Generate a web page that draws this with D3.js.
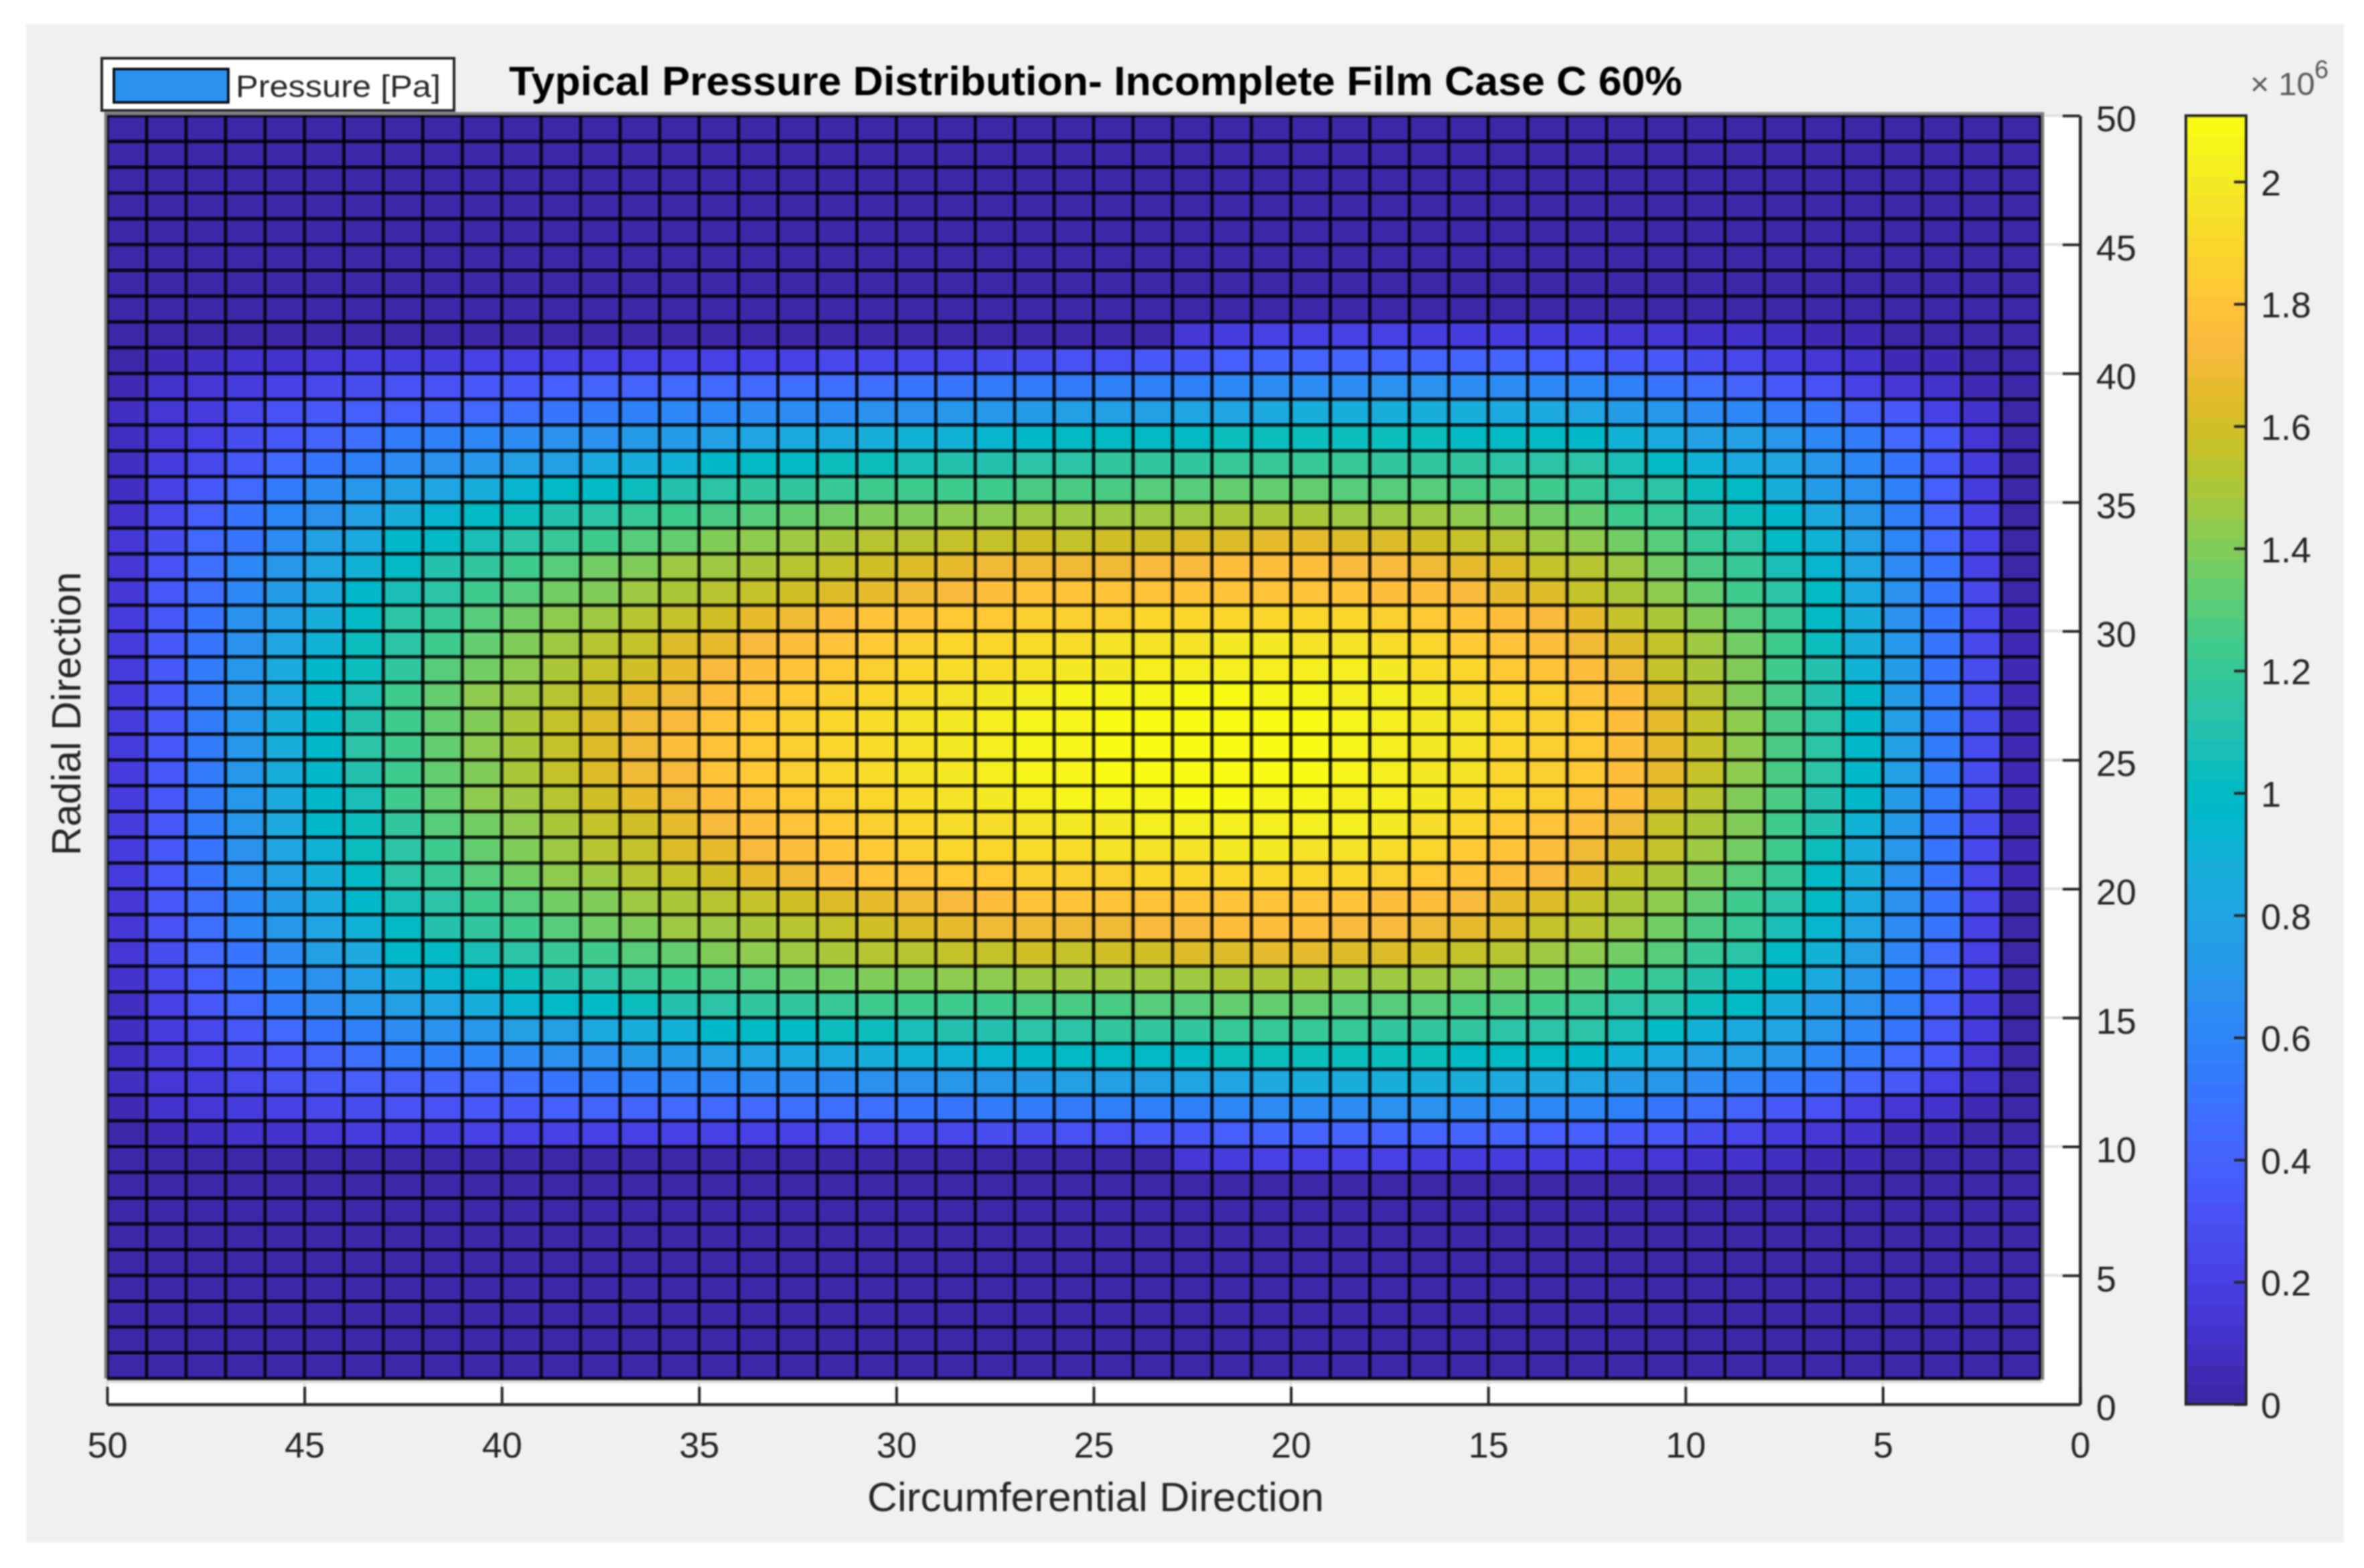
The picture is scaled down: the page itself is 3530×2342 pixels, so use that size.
<!DOCTYPE html>
<html><head><meta charset="utf-8">
<script src="https://cdnjs.cloudflare.com/ajax/libs/d3/7.8.5/d3.min.js"></script>
<style>
html,body{margin:0;padding:0;background:#fff}
svg{display:block;filter:blur(0.9px)}
text{font-family:"Liberation Sans",Arial,sans-serif}
</style></head><body>
<svg id="c" width="3530" height="2342"></svg>
<script>
const titleText = "Typical Pressure Distribution- Incomplete Film Case C 60%";
const xLabelText = "Circumferential Direction";
const yLabelText = "Radial Direction";
const legendText = "Pressure [Pa]";
const axisTicks = [0,5,10,15,20,25,30,35,40,45,50];
const barTicks = [0,0.2,0.4,0.6,0.8,1,1.2,1.4,1.6,1.8,2];
const barMax = 2.108e6;
// x cell edges left to right: 50 ... 1
const xEdges = [50,49,48,47,46,45,44,43,42,41,40,39,38,37,36,35,34,33,32,31,30,29,28,27,26,25,24,23,22,21,20,19,18,17,16,15,14,13,12,11,10,9,8,7,6,5,4,3,2,1];
// y cell edges top to bottom: 50 ... 1
const yEdges = xEdges;
const parula = [[.2422,.1504,.6603],[.2504,.165,.7076],[.2578,.1818,.7511],[.2647,.1978,.7952],[.2706,.2147,.8364],[.2751,.2342,.871],[.2783,.2559,.8991],[.2803,.2782,.9221],[.2813,.3006,.9414],[.281,.3228,.9579],[.2795,.3447,.9717],[.276,.3667,.9829],[.2699,.3892,.9906],[.2602,.4123,.9952],[.244,.4358,.9988],[.2206,.4603,.9973],[.1963,.4847,.9892],[.1834,.5074,.9798],[.1786,.5289,.9682],[.1764,.5499,.952],[.1687,.5703,.9359],[.154,.5902,.9218],[.146,.6091,.9079],[.138,.6276,.8973],[.1248,.6459,.8883],[.1113,.6635,.8763],[.0952,.6798,.8598],[.0689,.6948,.8394],[.0297,.7082,.8163],[.0036,.7203,.7917],[.0067,.7312,.766],[.0433,.7411,.7394],[.0964,.75,.712],[.1408,.7584,.6842],[.1717,.767,.6554],[.1938,.7758,.6251],[.2161,.7843,.5923],[.247,.7918,.5567],[.2906,.7973,.5188],[.3406,.8008,.4789],[.3909,.8029,.4354],[.4456,.8024,.3909],[.5044,.7993,.348],[.5616,.7942,.3045],[.6174,.7876,.2612],[.672,.7793,.2227],[.7242,.7698,.191],[.7738,.7598,.1646],[.8203,.7498,.1535],[.8634,.7406,.1596],[.9035,.733,.1774],[.9393,.7288,.21],[.9728,.7298,.2394],[.9956,.7434,.2371],[.997,.7659,.2199],[.9952,.7893,.2028],[.9892,.8136,.1885],[.9786,.8386,.1766],[.9676,.8639,.1643],[.961,.889,.1537],[.9597,.9135,.1423],[.9628,.9373,.1265],[.9691,.9606,.1064],[.9769,.9839,.0805]];
const darkRow = [0,0,0,0,0,0,0,0,0,0,0,0,0,0,0,0,0,0,0,0,0,0,0,0,0,0,0,0,0,0,0,0,0,0,0,0,0,0,0,0,0,0,0,0,0,0,0,0,0];
// pressure in units of 1e4 Pa, rows top (y 49-50) to bottom (y 1-2), columns left (x 49-50) to right (x 1-2)
const pressure = [
darkRow,darkRow,darkRow,darkRow,darkRow,darkRow,darkRow,darkRow,
[0,0,0,0,0,0,0,0,0,0,0,0,0,0,0,0,0,0,0,0,0,0,0,0,0,0,0,16,19,20,20,20,20,19,18,18,18,17,16,15,13,11,8,6,4,3,2,1,1],
[3,5,8,11,13,14,17,18,19,20,20,21,21,22,22,22,23,23,24,24,25,26,27,28,30,31,33,36,38,40,41,41,41,41,41,40,39,38,36,33,28,24,19,14,10,6,4,2,1],
[4,10,14,18,22,25,28,30,32,34,36,38,40,42,44,45,46,47,48,49,50,51,53,54,55,56,57,59,61,63,64,65,66,66,65,63,62,60,56,52,47,42,36,30,22,16,10,6,2],
[7,14,18,25,30,33,37,39,42,46,49,52,55,57,60,61,63,64,65,67,69,70,71,74,76,78,79,80,82,84,86,86,87,87,86,84,83,80,74,70,65,60,55,50,42,36,22,11,3],
[8,15,20,28,33,41,48,53,56,60,63,66,69,73,75,78,81,83,85,87,89,90,93,97,99,100,100,101,103,104,105,105,104,103,102,101,100,97,90,85,79,76,70,62,54,44,33,14,3],
[9,17,24,35,44,52,58,64,69,72,76,79,83,88,92,96,100,101,104,105,107,109,111,113,115,116,117,118,119,119,119,119,118,117,116,115,114,112,107,101,90,85,80,72,60,50,36,17,3],
[9,22,34,46,53,63,70,77,82,88,95,100,102,105,109,113,116,118,120,122,123,124,125,126,127,128,129,131,132,133,132,131,130,129,127,126,123,120,115,112,105,99,87,75,68,56,38,19,3],
[12,25,38,50,60,68,78,86,93,100,105,110,114,120,123,126,130,133,136,139,141,143,144,145,145,146,147,148,149,150,150,148,147,145,143,140,137,132,125,120,111,103,96,84,72,58,40,20,3],
[15,28,43,52,64,76,85,96,100,108,114,120,125,131,135,139,143,146,149,152,154,156,158,159,158,160,161,163,164,165,165,163,162,160,157,153,147,142,138,130,120,112,100,90,76,62,44,22,3],
[16,32,47,60,71,80,92,100,109,118,124,130,136,141,145,148,151,154,158,161,164,166,168,170,170,171,173,174,175,176,175,174,172,170,166,162,158,153,146,138,128,120,108,95,82,65,50,23,3],
[16,33,48,62,73,83,96,106,115,124,130,136,141,145,149,153,156,159,163,167,170,174,177,178,179,180,180,179,180,180,179,178,176,175,172,167,162,157,150,144,133,125,112,99,84,66,50,24,3],
[17,34,51,67,76,88,100,112,121,130,137,143,148,152,156,160,165,170,175,178,180,182,184,186,185,187,188,189,190,191,190,189,187,184,181,177,173,165,158,150,139,130,120,102,87,69,51,24,4],
[17,36,52,68,80,92,103,114,125,134,140,146,152,157,162,167,172,177,181,184,187,189,190,192,193,195,196,197,198,198,197,195,192,189,184,180,176,171,164,157,147,137,124,105,88,70,52,25,4],
[18,36,53,70,84,96,105,118,129,138,144,150,155,161,167,172,177,181,184,187,190,192,194,196,198,200,201,202,203,203,202,201,198,193,189,184,181,175,168,158,151,140,125,109,92,73,52,27,4],
[18,36,55,70,85,97,108,122,133,142,147,153,159,165,170,176,180,183,187,190,193,196,199,202,205,206,207,208,208,207,206,204,202,198,194,190,186,181,176,163,152,141,127,111,96,74,53,28,4],
[18,36,55,72,86,98,111,124,132,141,149,156,162,168,174,179,182,185,189,192,195,199,202,205,207,208,209,210,210,209,208,206,203,199,195,191,187,182,176,165,155,142,128,112,98,76,54,28,4],
[18,36,55,72,87,98,112,124,132,142,150,157,163,169,175,179,183,187,190,193,196,200,203,205,207,209,210,210,210,210,209,207,204,200,195,191,187,182,177,166,155,143,128,112,98,76,54,28,4],
[18,36,55,72,86,98,111,124,132,141,149,156,162,168,174,179,182,185,189,192,195,199,202,205,207,208,209,210,210,209,208,206,203,199,195,191,187,182,176,165,155,142,128,112,98,76,54,28,4],
[18,36,55,70,85,97,108,122,133,142,147,153,159,165,170,176,180,183,187,190,193,196,199,202,205,206,207,208,208,207,206,204,202,198,194,190,186,181,176,163,152,141,127,111,96,74,53,28,4],
[18,36,53,70,84,96,105,118,129,138,144,150,155,161,167,172,177,181,184,187,190,192,194,196,198,200,201,202,203,203,202,201,198,193,189,184,181,175,168,158,151,140,125,109,92,73,52,27,4],
[17,36,52,68,80,92,103,114,125,134,140,146,152,157,162,167,172,177,181,184,187,189,190,192,193,195,196,197,198,198,197,195,192,189,184,180,176,171,164,157,147,137,124,105,88,70,52,25,4],
[17,34,51,67,76,88,100,112,121,130,137,143,148,152,156,160,165,170,175,178,180,182,184,186,185,187,188,189,190,191,190,189,187,184,181,177,173,165,158,150,139,130,120,102,87,69,51,24,4],
[16,33,48,62,73,83,96,106,115,124,130,136,141,145,149,153,156,159,163,167,170,174,177,178,179,180,180,179,180,180,179,178,176,175,172,167,162,157,150,144,133,125,112,99,84,66,50,24,3],
[16,32,47,60,71,80,92,100,109,118,124,130,136,141,145,148,151,154,158,161,164,166,168,170,170,171,173,174,175,176,175,174,172,170,166,162,158,153,146,138,128,120,108,95,82,65,50,23,3],
[15,28,43,52,64,76,85,96,100,108,114,120,125,131,135,139,143,146,149,152,154,156,158,159,158,160,161,163,164,165,165,163,162,160,157,153,147,142,138,130,120,112,100,90,76,62,44,22,3],
[12,25,38,50,60,68,78,86,93,100,105,110,114,120,123,126,130,133,136,139,141,143,144,145,145,146,147,148,149,150,150,148,147,145,143,140,137,132,125,120,111,103,96,84,72,58,40,20,3],
[9,22,34,46,53,63,70,77,82,88,95,100,102,105,109,113,116,118,120,122,123,124,125,126,127,128,129,131,132,133,132,131,130,129,127,126,123,120,115,112,105,99,87,75,68,56,38,19,3],
[9,17,24,35,44,52,58,64,69,72,76,79,83,88,92,96,100,101,104,105,107,109,111,113,115,116,117,118,119,119,119,119,118,117,116,115,114,112,107,101,90,85,80,72,60,50,36,17,3],
[8,15,20,28,33,41,48,53,56,60,63,66,69,73,75,78,81,83,85,87,89,90,93,97,99,100,100,101,103,104,105,105,104,103,102,101,100,97,90,85,79,76,70,62,54,44,33,14,3],
[7,14,18,25,30,33,37,39,42,46,49,52,55,57,60,61,63,64,65,67,69,70,71,74,76,78,79,80,82,84,86,86,87,87,86,84,83,80,74,70,65,60,55,50,42,36,22,11,3],
[4,10,14,18,22,25,28,30,32,34,36,38,40,42,44,45,46,47,48,49,50,51,53,54,55,56,57,59,61,63,64,65,66,66,65,63,62,60,56,52,47,42,36,30,22,16,10,6,2],
[3,5,8,11,13,14,17,18,19,20,20,21,21,22,22,22,23,23,24,24,25,26,27,28,30,31,33,36,38,40,41,41,41,41,41,40,39,38,36,33,28,24,19,14,10,6,4,2,1],
[0,0,0,0,0,0,0,0,0,0,0,0,0,0,0,0,0,0,0,0,0,0,0,0,0,0,0,16,19,20,20,20,20,19,18,18,18,17,16,15,13,11,8,6,4,3,2,1,1],
darkRow,darkRow,darkRow,darkRow,darkRow,darkRow,darkRow,darkRow
];

const svg = d3.select("#c");
const ink = "#262626";
svg.append("rect").attr("x",39).attr("y",36).attr("width",3461).attr("height",2268).attr("fill","#f0f0f0");

const x = d3.scaleLinear().domain([50,0]).range([160,3106]);
const y = d3.scaleLinear().domain([0,50]).range([2097.5,172.7]);
const barY = d3.scaleLinear().domain([0,barMax]).range([2097.5,172.7]);
const hex = parula.map(c=>d3.rgb(c[0]*255,c[1]*255,c[2]*255).formatHex());
const color = d3.scaleQuantize().domain([0,barMax]).range(hex);

// axes background
svg.append("rect").attr("x",x(50)).attr("y",y(50)).attr("width",x(0)-x(50)).attr("height",y(0)-y(50)).attr("fill","#fff");
// grid
const grid = svg.append("g").attr("stroke","#e2e2e2").attr("stroke-width",4);
grid.selectAll("line.v").data(axisTicks).join("line").attr("class","v")
  .attr("x1",d=>x(d)).attr("x2",d=>x(d)).attr("y1",y(0)).attr("y2",y(50));
grid.selectAll("line.h").data(axisTicks).join("line").attr("class","h")
  .attr("y1",d=>y(d)).attr("y2",d=>y(d)).attr("x1",x(50)).attr("x2",x(0));

// surface cells
const cells = [];
pressure.forEach((row,r)=>row.forEach((v,k)=>cells.push({xv:xEdges[k],yv:yEdges[r],v:v*1e4})));
svg.append("g").selectAll("rect").data(cells).join("rect")
  .attr("x",d=>x(d.xv)).attr("y",d=>y(d.yv))
  .attr("width",d=>x(d.xv-1)-x(d.xv)+0.5).attr("height",d=>y(d.yv-1)-y(d.yv)+0.5)
  .attr("fill",d=>color(d.v));
// mesh
const mesh = svg.append("g").attr("stroke","#000").attr("stroke-opacity",0.85).attr("stroke-width",5);
mesh.selectAll("line.v").data(xEdges).join("line").attr("class","v")
  .attr("x1",d=>x(d)).attr("x2",d=>x(d)).attr("y1",y(50)).attr("y2",y(1));
mesh.selectAll("line.h").data(yEdges).join("line").attr("class","h")
  .attr("y1",d=>y(d)).attr("y2",d=>y(d)).attr("x1",x(50)).attr("x2",x(1));
// surface outline
const edge = svg.append("g").attr("fill","none");
edge.append("path").attr("stroke","#7a7a7a").attr("stroke-width",4.5)
  .attr("d",d3.line()([[x(50)-2,y(1)],[x(50)-2,y(50)-3],[x(1)+3,y(50)-3],[x(1)+3,y(1)+2]]));
edge.append("line").attr("stroke","#dcdcdc").attr("stroke-width",4)
  .attr("x1",x(50)-2).attr("x2",x(1)+3).attr("y1",y(1)+5).attr("y2",y(1)+5);

// axes
function styleAxis(g){
  g.selectAll(".domain").attr("stroke",ink).attr("stroke-width",4.5);
  g.selectAll(".tick line").attr("stroke",ink).attr("stroke-width",4);
  g.selectAll("text").attr("fill",ink).attr("font-size",54).attr("font-family",null);
}
const gx = svg.append("g").attr("transform",`translate(0,${y(0)})`)
  .call(d3.axisBottom(x).tickValues(axisTicks).tickSize(-26).tickSizeOuter(0).tickPadding(0).tickFormat(d3.format("d")));
styleAxis(gx);
gx.selectAll("text").attr("y",79.5).attr("dy",0);
const gy = svg.append("g").attr("transform",`translate(${x(0)},0)`)
  .call(d3.axisRight(y).tickValues(axisTicks).tickSize(-26).tickSizeOuter(0).tickPadding(24).tickFormat(d3.format("d")));
styleAxis(gy);
gy.selectAll("text").attr("dy",0).attr("y",23);

// colour bar
const barL=3264, barR=3354;
const bands = hex.map((h,i)=>({h,lo:color.invertExtent(h)[0],hi:color.invertExtent(h)[1]}));
svg.append("g").selectAll("rect").data(bands).join("rect")
  .attr("x",barL).attr("width",barR-barL).attr("y",d=>barY(d.hi)).attr("height",d=>barY(d.lo)-barY(d.hi)+0.5).attr("fill",d=>d.h);
svg.append("rect").attr("x",barL).attr("y",barY(barMax)).attr("width",barR-barL).attr("height",barY(0)-barY(barMax))
  .attr("fill","none").attr("stroke",ink).attr("stroke-width",4);
const gb = svg.append("g").attr("transform",`translate(${barR},0)`)
  .call(d3.axisRight(barY).tickValues(barTicks.map(v=>v*1e6)).tickSize(-18).tickSizeOuter(0).tickPadding(22).tickFormat(v=>String(+(v/1e6).toFixed(1))));
styleAxis(gb);
gb.select(".domain").remove();
gb.selectAll("text").attr("dy",0).attr("y",20);
svg.append("text").attr("x",3360).attr("y",142).attr("font-size",49).attr("fill","#5a5a5a").text("\u00d7 10");
svg.append("text").attr("x",3456).attr("y",117).attr("font-size",38).attr("fill","#5a5a5a").text("6");

// titles
svg.append("text").attr("x",1636).attr("y",142).attr("text-anchor","middle").attr("font-size",61).attr("font-weight","bold")
  .attr("fill","#000").attr("textLength",1752).attr("lengthAdjust","spacingAndGlyphs").text(titleText);
svg.append("text").attr("x",1636).attr("y",2257).attr("text-anchor","middle").attr("font-size",62)
  .attr("fill",ink).attr("textLength",682).attr("lengthAdjust","spacingAndGlyphs").text(xLabelText);
svg.append("text").attr("transform","translate(120,1066) rotate(-90)").attr("text-anchor","middle").attr("font-size",62)
  .attr("fill",ink).attr("textLength",424).attr("lengthAdjust","spacingAndGlyphs").text(yLabelText);

// legend
const lg = svg.append("g");
lg.append("rect").attr("x",152).attr("y",87).attr("width",526).attr("height",78).attr("fill","#fff").attr("stroke",ink).attr("stroke-width",4);
lg.append("rect").attr("x",170).attr("y",103).attr("width",171).attr("height",50).attr("fill",color(0.68e6)).attr("stroke","#000").attr("stroke-width",3.5);
lg.append("text").attr("x",352).attr("y",145).attr("font-size",47).attr("fill",ink)
  .attr("textLength",306).attr("lengthAdjust","spacingAndGlyphs").text(legendText);
</script>
</body></html>
